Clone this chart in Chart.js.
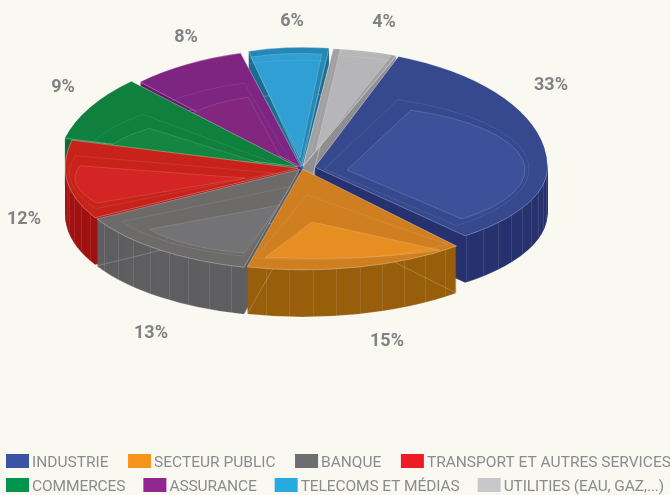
<!DOCTYPE html>
<html>
<head>
<meta charset="utf-8">
<script src="https://cdn.jsdelivr.net/npm/chart.js@4/dist/chart.umd.min.js"></script>
<style>
html, body { margin: 0; padding: 0; background: #f9f8f1; }
canvas { display: block; }
</style>
</head>
<body>
<canvas id="pie" width="670" height="495"></canvas>
<script>
const categories = ['INDUSTRIE', 'SECTEUR PUBLIC', 'BANQUE', 'TRANSPORT ET AUTRES SERVICES', 'COMMERCES', 'ASSURANCE', 'TELECOMS ET MÉDIAS', 'UTILITIES (EAU, GAZ,...)'];
const shares = [33, 15, 13, 12, 9, 8, 6, 4];
const legendColors = ['#3a53a4', '#f7941e', '#6d6e71', '#ed1c24', '#00954a', '#92278f', '#27aae1', '#c7c8ca'];
const faceColors = ['#3c5199', '#e68e22', '#737375', '#d42423', '#158642', '#82267f', '#2f9fd4', '#b6b6b8'];
const bandColors = ['#36498f', '#d07f20', '#6c6b69', '#c8231a', '#10803e', '#7e2481', '#2587b5', '#a0a0a2'];
const sideColors = ['#27326f', '#985f0c', '#5f5f61', '#a01212', '#0c6a34', '#651a6e', '#1c6d92', '#8f8f91'];
const explode = [14, 3, 4, 4, 5, 2, 4, 3];
const reachLefts = [232, 232, 232, 232, 238, 232, 205, 232];
const reachRights = [231, 238, 238, 238, 238, 238, 238, 260];
const tiltDowns = [0.365, 0.41, 0.41, 0.41, 0.41, 0.41, 0.41, 0.41];
const labelSpots = [[551, 85], [387, 341], [151, 333], [24, 219], [63, 87], [186, 37], [292, 21], [384, 22]];
// lighter inner face of each slice: apex x, apex y, radius, vertical squeeze
const innerFaces = [[347, 170, 178, 0.36], [312, 222, 198, 0.185], [280, 205, 150, 0.33], [245, 178, 170, 0.3],
  [260, 163, 160, 0.3], [282, 160, 130, 0.5], [300, 158, 190, 0.55], [316, 150, 210, 0.48]];

const apexX = 302, apexY = 168, depth = 47;
const reachY = 245, tiltUp = 0.48;
const legendFont = '15.5px "Roboto"';
const labelFont = 'bold 18px "Roboto"';
const textGrey = '#808285';
const legendGrey = '#8a8c8f';

const quadrants = [
  { left: true, up: true }, { left: false, up: true },
  { left: true, up: false }, { left: false, up: false }
];

function wedge(ctx, arc, options, outer) {
  const savedOptions = arc.options;
  const savedOuter = arc.outerRadius;
  arc.options = Object.assign({}, savedOptions, options);
  if (outer != null) arc.outerRadius = outer;
  arc.draw(ctx);
  arc.options = savedOptions;
  arc.outerRadius = savedOuter;
}

// one piece of a slice, the ellipse is not the same size on each side of the apex
function quadrantWedge(ctx, arc, i, q, lift, options) {
  const r = arc.outerRadius;
  ctx.save();
  ctx.setTransform(1, 0, 0, 1, 0, 0);
  ctx.beginPath();
  ctx.rect(q.left ? -50 : apexX, q.up ? -50 : apexY + lift, q.left ? apexX + 50 : 800, q.up ? apexY + lift + 50 : 800);
  ctx.clip();
  ctx.translate(apexX, apexY + lift);
  ctx.scale((q.left ? reachLefts[i] : reachRights[i]) / r, reachY * (q.up ? tiltUp : tiltDowns[i]) / r);
  ctx.translate(-arc.x, -arc.y);
  wedge(ctx, arc, options);
  ctx.restore();
}

function framedWedge(ctx, arc, frame, options) {
  const r = arc.outerRadius;
  ctx.save();
  ctx.setTransform(1, 0, 0, 1, 0, 0);
  ctx.translate(frame[0], frame[1]);
  ctx.scale(frame[2] / r, frame[2] * frame[3] / r);
  ctx.translate(-arc.x, -arc.y);
  wedge(ctx, arc, options);
  ctx.restore();
}

// faint upright lines on the front of the wall
function wallLines(ctx, arc, i) {
  const r = arc.outerRadius;
  const mid = (arc.startAngle + arc.endAngle) / 2;
  ctx.save();
  ctx.setTransform(1, 0, 0, 1, 0, 0);
  ctx.strokeStyle = 'rgba(255,255,255,0.1)';
  ctx.lineWidth = 1;
  for (let a = arc.startAngle + 0.06; a < arc.endAngle; a += 0.1) {
    if (Math.sin(a) <= 0) continue;
    const rx = Math.cos(a) < 0 ? reachLefts[i] : reachRights[i];
    const dx = Math.cos(mid) * explode[i] * rx / r;
    const dy = Math.sin(mid) * explode[i] * reachY * tiltDowns[i] / r;
    const x = Math.round(apexX + dx + Math.cos(a) * rx) + 0.5;
    const y = apexY + dy + Math.sin(a) * reachY * tiltDowns[i];
    ctx.beginPath();
    ctx.moveTo(x, y);
    ctx.lineTo(x, y + depth);
    ctx.stroke();
  }
  ctx.restore();
}

function drawSlice(ctx, arc, i) {
  const offset = explode[i] * 4; // the arc element moves by a quarter of its offset option
  for (const q of quadrants) {
    // side wall, piled up from the bottom
    for (let d = depth; d > 0; d--) {
      quadrantWedge(ctx, arc, i, q, d, { backgroundColor: sideColors[i], borderWidth: 0, offset });
    }
    quadrantWedge(ctx, arc, i, q, depth, { backgroundColor: 'rgba(0,0,0,0)', borderColor: 'rgba(255,255,255,0.3)', borderWidth: 1, offset });
  }
  wallLines(ctx, arc, i);
  for (const q of quadrants) {
    quadrantWedge(ctx, arc, i, q, 0, { backgroundColor: bandColors[i], borderColor: 'rgba(255,255,255,0.45)', borderWidth: 1, offset });
  }
  const inner = innerFaces[i];
  framedWedge(ctx, arc, inner, { backgroundColor: faceColors[i], borderColor: 'rgba(255,255,255,0.3)', borderWidth: 1, offset: 0 });
  // faint wire line half way between the rim and the inner face
  const halfway = [(inner[0] + apexX) / 2, (inner[1] + apexY) / 2, (inner[2] + reachRights[i]) / 2, (inner[3] + tiltDowns[i]) / 2];
  framedWedge(ctx, arc, halfway, { backgroundColor: 'rgba(0,0,0,0)', borderColor: 'rgba(255,255,255,0.15)', borderWidth: 1, offset: 0 });
}

const tiltedPie = {
  id: 'tiltedPie',
  beforeDatasetsDraw(chart) {
    const ctx = chart.ctx;
    const arcs = chart.getDatasetMeta(0).data;
    const order = arcs.map((a, i) => i).sort((a, b) => {
      const ma = (arcs[a].startAngle + arcs[a].endAngle) / 2;
      const mb = (arcs[b].startAngle + arcs[b].endAngle) / 2;
      return Math.sin(ma) - Math.sin(mb);
    });
    ctx.save();
    for (const i of order) drawSlice(ctx, arcs[i], i);
    ctx.restore();
    return false;
  },
  afterDraw(chart) {
    const ctx = chart.ctx;
    ctx.save();
    ctx.fillStyle = textGrey;
    ctx.textAlign = 'center';
    ctx.textBaseline = 'middle';
    ctx.font = labelFont;
    shares.forEach((v, i) => ctx.fillText(v + '%', labelSpots[i][0], labelSpots[i][1]));

    // legend, 4 entries on each row
    ctx.textAlign = 'left';
    ctx.font = legendFont;
    let x = 6;
    categories.forEach((name, i) => {
      if (i === 4) {
        x = 6;
        ctx.letterSpacing = '-0.1px';
      }
      const y = i < 4 ? 454 : 478;
      ctx.fillStyle = legendColors[i];
      ctx.fillRect(x, y, 23, 14);
      ctx.fillStyle = legendGrey;
      ctx.fillText(name, x + 26, y + 9);
      x += 26 + ctx.measureText(name).width + (i < 4 ? 19.5 : 18);
    });
    ctx.restore();
  }
};

new Chart(document.getElementById('pie'), {
  type: 'pie',
  data: {
    labels: categories,
    datasets: [{ data: shares, backgroundColor: legendColors, borderWidth: 0 }]
  },
  options: {
    responsive: false,
    animation: false,
    rotation: 21,
    layout: { padding: 0 },
    plugins: { legend: { display: false }, tooltip: { enabled: false } }
  },
  plugins: [tiltedPie]
});
</script>
</body>
</html>
